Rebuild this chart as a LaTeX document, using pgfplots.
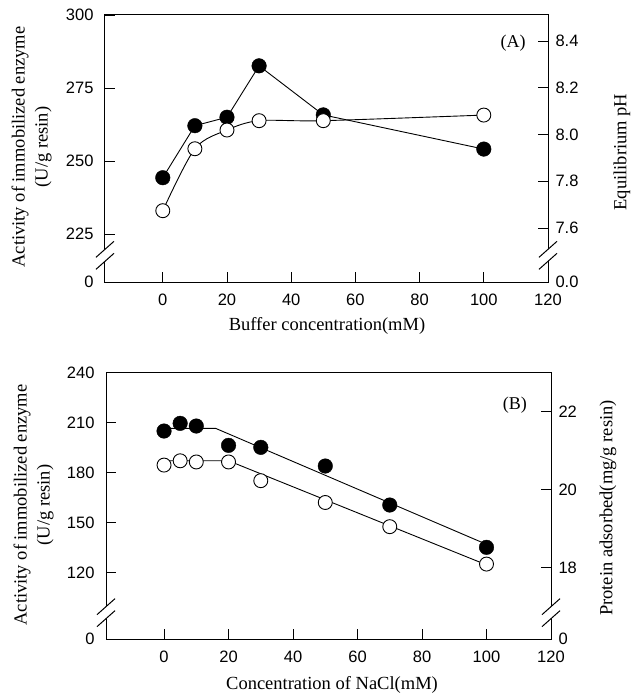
\documentclass[border=0pt]{standalone}
\usepackage{fontspec}
\setmainfont{Liberation Serif}
\newfontfamily\sansf{Liberation Sans}
\usepackage{pgfplots}
\pgfplotsset{compat=1.18}

\pgfplotsset{
  base/.style={scale only axis, width=443pt, height=267pt, xmin=-18, xmax=120,
    clip=false, tick align=inside, major tick length=10pt,
    tick style={black, line width=0.9pt}, axis line style={line width=1pt},
    ticklabel style={font=\sansf\fontsize{16.5}{16.5}\selectfont}},
  leftax/.style={xtick pos=bottom, ytick pos=left,
    xtick={0,20,40,60,80,100,120}, xticklabels={0,20,40,60,80,100,120},
    xticklabel style={yshift=-8pt}, yticklabel style={xshift=-8pt}},
  rightax/.style={axis y line*=right, axis x line=none, yticklabel style={xshift=4pt}},
  filledmk/.style={only marks, mark=*, mark size=7.3pt, mark options={fill=black, draw=black}},
  openmk/.style={only marks, mark=*, mark size=7pt, mark options={fill=white, draw=black, line width=0.9pt}},
  lineplot/.style={black, line width=0.9pt, no marks},
}
\newcommand{\brk}[1]{%
  \fill[white] ([shift={(-4pt,-9.56pt)}]rel axis cs:#1,0.1) -- ([shift={(4pt,-2.44pt)}]rel axis cs:#1,0.1)
     -- ([shift={(4pt,9.56pt)}]rel axis cs:#1,0.1) -- ([shift={(-4pt,2.44pt)}]rel axis cs:#1,0.1) -- cycle;
  \draw[line width=1pt] ([shift={(-9pt,-2pt)}]rel axis cs:#1,0.1) -- ([shift={(9pt,14pt)}]rel axis cs:#1,0.1);
  \draw[line width=1pt] ([shift={(-9pt,-14pt)}]rel axis cs:#1,0.1) -- ([shift={(9pt,2pt)}]rel axis cs:#1,0.1);
}

\begin{document}
\begin{tikzpicture}
\path[use as bounding box] (0,0) rectangle (632pt,-697pt);

% ---------------- Panel A ----------------
\begin{axis}[base, leftax, at={(105pt,-282pt)}, anchor=south west,
  ymin=208.6, ymax=300, ytick={208.6,225,250,275,300}, yticklabels={0,225,250,275,300}]
\addplot[lineplot] coordinates {(0,244.3)(10,262.1)(20,265.0)(30,282.6)(50,265.8)(100,254.1)};
\addplot[filledmk] coordinates {(0,244.3)(10,262.1)(20,265.0)(30,282.6)(50,265.8)(100,254.1)};
\brk{0}
\node[font=\fontsize{18}{18}\selectfont] at (rel axis cs:0.921,0.895) {(A)};
\end{axis}
\begin{axis}[base, rightax, at={(105pt,-282pt)}, anchor=south west,
  ymin=7.369, ymax=8.511, ytick={7.369,7.6,7.8,8.0,8.2,8.4}, yticklabels={0.0,7.6,7.8,8.0,8.2,8.4}]
\addplot[lineplot, smooth, tension=0.5] coordinates {(0,7.674)(10,7.939)(20,8.019)(30,8.059)(50,8.059)(100,8.083)};
\addplot[openmk] coordinates {(0,7.674)(10,7.939)(20,8.019)(30,8.059)(50,8.059)(100,8.083)};
\brk{1}
\end{axis}

% ---------------- Panel B ----------------
\begin{axis}[base, leftax, width=445pt, height=266.6pt, at={(106pt,-639.3pt)}, anchor=south west,
  ymin=80, ymax=240, ytick={80,120,150,180,210,240}, yticklabels={0,120,150,180,210,240}]
\addplot[lineplot] coordinates {(0,206.6)(16,206.6)(100,137.0)};
\addplot[filledmk] coordinates {(0,205.0)(5,209.6)(10,208.0)(20,196.4)(30,195.2)(50,184.0)(70,160.6)(100,135.2)};
\brk{0}
\node[font=\fontsize{18}{18}\selectfont] at (rel axis cs:0.919,0.879) {(B)};
\end{axis}
\begin{axis}[base, rightax, width=445pt, height=266.6pt, at={(106pt,-639.3pt)}, anchor=south west,
  ymin=16.16, ymax=23.0, ytick={16.16,18,20,22}, yticklabels={0,18,20,22}]
\addplot[lineplot] coordinates {(0,20.74)(20,20.74)(100,18.07)};
\addplot[openmk] coordinates {(0,20.63)(5,20.74)(10,20.71)(20,20.71)(30,20.23)(50,19.67)(70,19.05)(100,18.09)};
\brk{1}
\end{axis}

% ---------------- Axis titles ----------------
\node[rotate=90, align=center, font=\fontsize{18.5}{23}\selectfont] at (31.5pt,-147pt)
  {Activity of immobilized enzyme\\(U/g resin)};
\node[rotate=90, font=\fontsize{18.5}{23}\selectfont] at (622pt,-152pt) {Equilibrium pH};
\node[font=\fontsize{18.5}{23}\selectfont] at (327pt,-326pt) {Buffer concentration(mM)};

\node[rotate=90, align=center, font=\fontsize{18.5}{23}\selectfont] at (33.5pt,-505pt)
  {Activity of immobilized enzyme\\(U/g resin)};
\node[rotate=90, font=\fontsize{18.5}{23}\selectfont] at (608pt,-508pt) {Protein adsorbed(mg/g resin)};
\node[font=\fontsize{18.5}{23}\selectfont] at (332pt,-685pt) {Concentration of NaCl(mM)};
\end{tikzpicture}
\end{document}
